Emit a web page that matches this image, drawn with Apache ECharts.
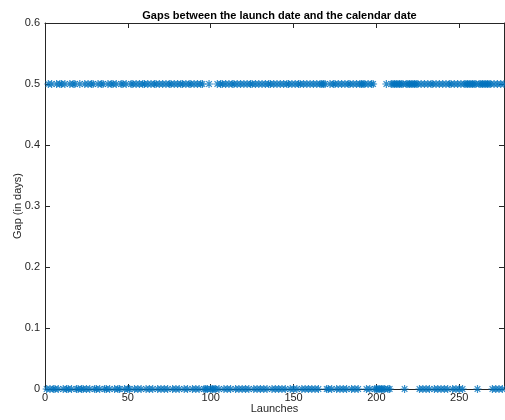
<!DOCTYPE html>
<html>
<head>
<meta charset="utf-8">
<script src="https://cdn.jsdelivr.net/npm/echarts@6/dist/echarts.min.js"></script>
<style>html,body{margin:0;padding:0;background:#fff}#c{width:505px;height:420px}</style>
</head>
<body>
<div id="c"></div>
<script>
var titleText = 'Gaps between the launch date and the calendar date';
var xName = 'Launches';
var yName = 'Gap (in days)';
var xTicks = [0, 50, 100, 150, 200, 250];
var yTicks = [0, 0.1, 0.2, 0.3, 0.4, 0.5, 0.6];
// gap (days) for launch 1..277
var gaps = [
0,0.5,0,0.5,0,0,0.5,0,0.5,0.5,
0,0.5,0,0,0.5,0,0.5,0.5,0,0,
0.5,0,0,0.5,0,0.5,0,0.5,0.5,0,
0,0.5,0,0.5,0.5,0,0,0.5,0,0.5,
0.5,0,0.5,0,0,0.5,0.5,0,0.5,0,
0,0.5,0.5,0,0.5,0,0.5,0,0.5,0.5,
0,0.5,0,0.5,0,0.5,0.5,0,0.5,0,
0.5,0,0.5,0,0.5,0.5,0,0.5,0,0.5,
0,0.5,0.5,0,0.5,0,0.5,0.5,0,0.5,
0,0.5,0,0.5,0.5,0,0,0,0.5,0,
0,0,0,0.5,0,0.5,0.5,0,0.5,0,
0.5,0,0.5,0.5,0,0.5,0,0.5,0,0.5,
0,0.5,0,0.5,0.5,0,0.5,0,0.5,0,
0.5,0,0.5,0,0.5,0.5,0,0.5,0,0.5,
0,0.5,0,0.5,0,0.5,0.5,0,0.5,0,
0.5,0,0.5,0.5,0,0.5,0,0.5,0,0.5,
0,0.5,0,0.5,0,0.5,0.5,0.5,0.5,0,
0,0.5,0,0.5,0.5,0,0.5,0,0.5,0,
0.5,0,0.5,0.5,0,0.5,0,0.5,0,0.5,
0.5,0.5,0.5,0,0.5,0,0.5,0.5,0,0,
0,0,0,0,0,0.5,0,0,0.5,0.5,
0.5,0.5,0.5,0.5,0.5,0.5,0,0.5,0.5,0.5,
0.5,0.5,0.5,0.5,0.5,0,0.5,0,0.5,0,
0.5,0,0.5,0.5,0,0.5,0,0.5,0,0.5,
0,0.5,0,0.5,0.5,0,0.5,0,0.5,0,
0.5,0,0.5,0.5,0.5,0.5,0.5,0.5,0.5,0.5,
0,0.5,0.5,0.5,0.5,0.5,0.5,0.5,0.5,0,
0.5,0,0.5,0,0.5,0,0.5
];
var xMax = 277;

var data = gaps.map(function(v, i){ return [i + 1, v]; });
var axisColor = '#262626';
var lbl = {color: axisColor, fontSize: 11, fontFamily: 'Liberation Sans, Arial, sans-serif'};
var asterisk = 'path://M0,5L10,5M5,0L5,10M1.5,1.5L8.5,8.5M8.5,1.5L1.5,8.5';

var chart = echarts.init(document.getElementById('c'), null, {renderer: 'canvas'});
function axLine(){ return {show: true, onZero: false, lineStyle: {color: axisColor, width: 1}}; }
function tick(){ return {show: true, inside: true, length: 5, lineStyle: {color: axisColor}}; }
chart.setOption({
  animation: false,
  backgroundColor: '#fff',
  title: {
    text: titleText, left: 274.5, textAlign: 'center', top: 5,
    textStyle: {fontSize: 11, fontWeight: 'bold', color: '#000', fontFamily: 'Liberation Sans, Arial, sans-serif'}
  },
  grid: {left: 45, top: 23, width: 459, height: 366, containLabel: false, outerBoundsMode: 'none'},
  xAxis: [
    {
      type: 'value', min: 0, max: xMax, interval: 50, position: 'bottom',
      name: xName, nameLocation: 'middle', nameGap: 14, nameMoveOverlap: false,
      nameTextStyle: lbl, axisLine: axLine(), axisTick: tick(), splitLine: {show: false},
      axisLabel: Object.assign({margin: 3, showMaxLabel: false, formatter: function(v){ return xTicks.indexOf(v) >= 0 ? String(v) : ''; }}, lbl)
    },
    {
      type: 'value', min: 0, max: xMax, interval: 50, position: 'top',
      axisLine: axLine(), axisTick: tick(), splitLine: {show: false},
      axisLabel: {show: false}
    }
  ],
  yAxis: [
    {
      type: 'value', min: 0, max: 0.6, interval: 0.1, position: 'left',
      name: yName, nameLocation: 'middle', nameGap: 22, nameMoveOverlap: false,
      nameTextStyle: lbl, axisLine: axLine(), axisTick: tick(), splitLine: {show: false},
      axisLabel: Object.assign({margin: 5, formatter: function(v){ var r = Math.round(v*10)/10; return yTicks.indexOf(r) >= 0 ? String(r) : ''; }}, lbl)
    },
    {
      type: 'value', min: 0, max: 0.6, interval: 0.1, position: 'right',
      axisLine: axLine(), axisTick: tick(), splitLine: {show: false},
      axisLabel: {show: false}
    }
  ],
  series: [{
    type: 'scatter',
    xAxisIndex: 0, yAxisIndex: 0,
    data: data,
    symbol: asterisk,
    symbolSize: 8,
    clip: false,
    itemStyle: {color: 'none', borderColor: '#0072BD', borderWidth: 1.2}
  }]
});
</script>
</body>
</html>
